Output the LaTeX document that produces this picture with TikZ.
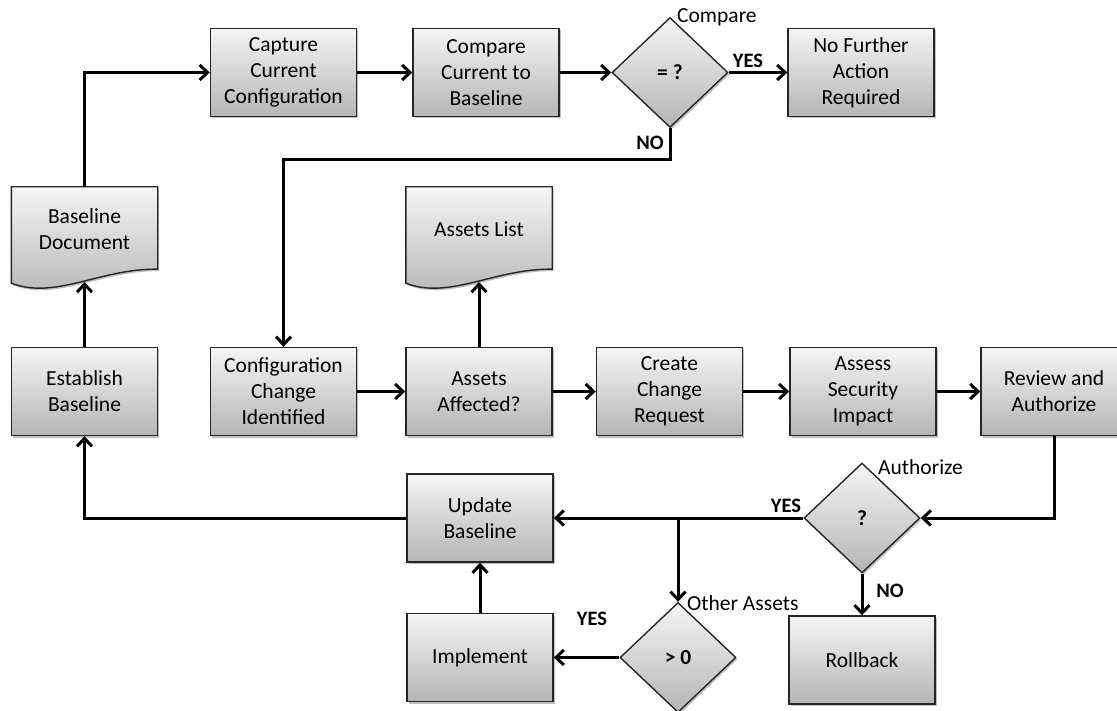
\documentclass[tikz,border=0pt]{standalone}
\usepackage{fontspec}
\setmainfont{Carlito}
\usetikzlibrary{arrows.meta,shapes.geometric,calc,shadows}
\tikzset{
  shad/.style={drop shadow={shadow xshift=1.5pt,shadow yshift=-2pt,opacity=0.25,fill=black}},
  box/.style={rectangle, draw=black!85, line width=1.4pt, top color=gray!8, bottom color=gray!58,
    minimum width=146pt, minimum height=88pt, align=center, inner sep=2pt, shad,
    font=\fontsize{21.5}{26}\selectfont},
  dia/.style={diamond, draw=black!85, line width=1.4pt, top color=gray!8, bottom color=gray!58,
    minimum width=116pt, minimum height=110pt, inner sep=0pt, shad,
    font=\fontsize{21.5}{26}\selectfont\bfseries},
  docn/.style={rectangle, minimum width=146pt, minimum height=82pt, align=center, inner sep=0pt,
    font=\fontsize{21.5}{26}\selectfont},
  docshape/.style={draw=black!85, line width=1.4pt, top color=gray!8, bottom color=gray!58, shad},
  arr/.style={line width=3pt, -{Straight Barb[length=8pt,width=15pt]}},
  lbl/.style={inner sep=0pt, anchor=west, font=\fontsize{21.5}{26}\selectfont},
  yn/.style={inner sep=0pt, font=\fontsize{20.5}{24}\selectfont\bfseries}
}
\newcommand{\docpath}[1]{%
  \path[docshape] (#1.north west) -- (#1.north east) -- (#1.south east)
    .. controls ($(#1.south east)+(-57,-1)$) and ($(#1.south west)+(44,31)$) .. ($(#1.south west)+(0,14)$)
    -- cycle;}
\begin{document}
\begin{tikzpicture}[x=1pt,y=-1pt]
\useasboundingbox (0,0) rectangle (1117,711);
% top row
\node[box] (capture) at (283.5,72.5) {Capture\\Current\\Configuration};
\node[box] (compare) at (486,72.5) {Compare\\Current to\\Baseline};
\node[dia] (cmpd) at (670,72.5) {= ?};
\node[box] (nofurther) at (861,72.5) {No Further\\Action\\Required};
\node[lbl] (cmplbl) at (677,17) {Compare};
% documents
\node[docn] (bdoc) at (84.5,228) {};
\docpath{bdoc}
\node[docn] at (84.5,229) {Baseline\\Document};
\node[docn] (alist) at (479,228) {};
\docpath{alist}
\node[docn] at (479,229) {Assets List};
\coordinate (bdocb) at (84.5,282);
\coordinate (alistb) at (479,282);
% second row
\node[box] (establish) at (84.5,391.5) {Establish\\Baseline};
\node[box] (config) at (283.5,391.5) {Configuration\\Change\\Identified};
\node[box] (assets) at (479,391.5) {Assets\\Affected?};
\node[box] (create) at (669.5,391.5) {Create\\Change\\Request};
\node[box] (assess) at (863,391.5) {Assess\\Security\\Impact};
\node[box] (review) at (1054,391.5) {Review and\\Authorize};
% lower part
\node[dia] (authd) at (862,518) {?};
\node[lbl] (authlbl) at (878,467) {Authorize};
\node[box] (update) at (480,518) {Update\\Baseline};
\node[box] (implement) at (480,657.5) {Implement};
\node[dia] (otherd) at (678,657.5) {> 0};
\node[lbl] (othlbl) at (687,603) {Other Assets};
\node[box] (rollback) at (862,660) {Rollback};
% labels
\node[yn] (y1) at (748,61) {YES};
\node[yn] (n1) at (650,143) {NO};
\node[yn] (y2) at (786,506) {YES};
\node[yn] (n2) at (890,591) {NO};
\node[yn] (y3) at (592,619) {YES};
% connectors
\coordinate (noy) at (0,160);
\draw[arr] (bdoc.north) |- (capture.west);
\draw[arr] (capture.east) -- (compare.west);
\draw[arr] (compare.east) -- (cmpd.west);
\draw[arr] (cmpd.east) -- (nofurther.west);
\draw[arr] (cmpd.south) |- (noy -| config.north) -- (config.north);
\draw[arr] (establish.north) -- (bdocb);
\draw[arr] (assets.north) -- (alistb);
\draw[arr] (config.east) -- (assets.west);
\draw[arr] (assets.east) -- (create.west);
\draw[arr] (create.east) -- (assess.west);
\draw[arr] (assess.east) -- (review.west);
\draw[arr] (review.south) |- (authd.east);
\draw[arr] (authd.west) -- (update.east);
\draw[arr] (authd.west -| otherd.north) -- (otherd.north);
\draw[arr] (otherd.west) -- (implement.east);
\draw[arr] (implement.north) -- (update.south);
\draw[arr] (update.west) -| (establish.south);
\draw[arr] (authd.south) -- (rollback.north);
\end{tikzpicture}
\end{document}
